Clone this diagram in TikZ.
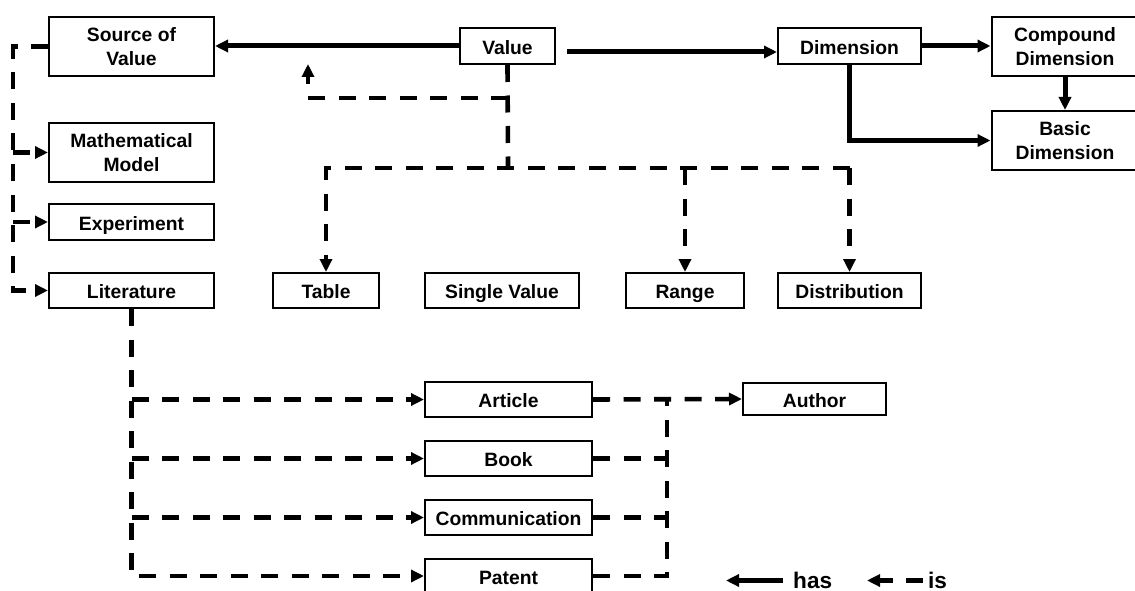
\documentclass[tikz,border=0pt]{standalone}
\usepackage{fontspec}
\setmainfont{Liberation Sans}
\usetikzlibrary{arrows.meta}
\newcommand{\bxfont}{\bfseries\fontsize{19.3pt}{23.5pt}\selectfont}
\newcommand{\lgfont}{\bfseries\fontsize{22.6pt}{26pt}\selectfont}
\begin{document}
\begin{tikzpicture}[x=1pt,y=-1pt,
  box/.style={draw, line width=2pt, inner sep=0pt, align=center, font=\bxfont, minimum height=35pt},
  one/.style={box, text height=16.5pt, text depth=0pt},
  hasline/.style={line width=5pt},
  has/.style={hasline, -{Triangle[length=13pt,width=12pt]}},
  isline/.style={line width=4.6pt, dash pattern=on 17pt off 13.5pt},
  is/.style={isline, -{Triangle[length=13pt,width=12pt]}},
  legend/.style={inner sep=0pt, font=\lgfont}]
\useasboundingbox (0,0) rectangle (1135,591);
% boxes
\node[box, minimum width=165pt, minimum height=59pt] (src) at (131.5,46.5) {Source of\\Value};
\node[box, minimum width=165pt, minimum height=59pt] (mm) at (131.5,152.5) {Mathematical\\Model};
\node[one, minimum width=165pt, minimum height=36pt] (exp) at (131.5,222) {Experiment};
\node[one, minimum width=165pt] (lit) at (131.5,290.5) {Literature};
\node[one, minimum width=95pt, minimum height=36pt] (val) at (507.5,46) {Value};
\node[one, minimum width=143pt, minimum height=36pt] (dim) at (849.5,46) {Dimension};
\node[box, minimum width=147pt, minimum height=59pt] (cmp) at (1065,46.5) {Compound\\Dimension};
\node[box, minimum width=147pt, minimum height=59pt] (bas) at (1065,140.5) {Basic\\Dimension};
\node[one, minimum width=106pt] (tab) at (326,290.5) {Table};
\node[one, minimum width=154pt] (sv) at (502,290.5) {Single Value};
\node[one, minimum width=118pt] (rng) at (685,290.5) {Range};
\node[one, minimum width=143pt] (dis) at (849.5,290.5) {Distribution};
\node[one, minimum width=167pt] (art) at (508.5,399.5) {Article};
\node[one, minimum width=167pt] (bk) at (508.5,458.5) {Book};
\node[one, minimum width=167pt] (com) at (508.5,517.5) {Communication};
\node[one, minimum width=167pt] (pat) at (508.5,576) {Patent};
\node[one, minimum width=143pt, minimum height=32pt] (aut) at (814.5,399) {Author};
% has connectors
\draw[has] (val.west) -- (val.west -| src.east);
\coordinate (vd) at (567,52);
\draw[has] (vd) -- (vd -| dim.west);
\draw[has] (dim.east) -- (dim.east -| cmp.west);
\draw[has] (cmp.south) -- (bas.north);
\draw[has] (dim.south) |- (bas.west);
% value is connectors
\coordinate (vk) at (508,98);
\coordinate (ua) at (308,64);
\coordinate (vb) at (508,168);
\draw[isline] (val.south) -- (vb);
\draw[is] (vk) -| (ua);
\draw[is] (vb -| dis.north) -| (tab.north);
\draw[is] (vb -| rng.north) -- (rng.north);
\draw[is] (vb -| dis.north) -- (dis.north);
% source of value
\coordinate (sl) at (13,46.5);
\draw[is] (src.west) -- (sl) |- (lit.west);
\draw[is] (sl |- mm.west) -- (mm.west);
\draw[is] (sl |- exp.west) -- (exp.west);
% literature
\draw[is] (lit.south) |- (pat.west);
\draw[is] (lit.south |- art.west) -- (art.west);
\draw[is] (lit.south |- bk.west) -- (bk.west);
\draw[is] (lit.south |- com.west) -- (com.west);
% author
\coordinate (rv) at (667,399.5);
\draw[is] (art.east) -- (aut.west);
\draw[isline] (pat.east) -| (rv);
\draw[isline] (bk.east) -- (bk.east -| rv);
\draw[isline] (com.east) -- (com.east -| rv);
% legend
\node[legend, anchor=base west] (hast) at (793,588) {has};
\node[legend, anchor=base west] (ist) at (928,588) {is};
\coordinate (h0) at (783,580.5);
\coordinate (h1) at (726,580.5);
\coordinate (i0) at (923,580.5);
\coordinate (i1) at (867,580.5);
\draw[has] (h0) -- (h1);
\draw[is] (i0) -- (i1);
\end{tikzpicture}
\end{document}
